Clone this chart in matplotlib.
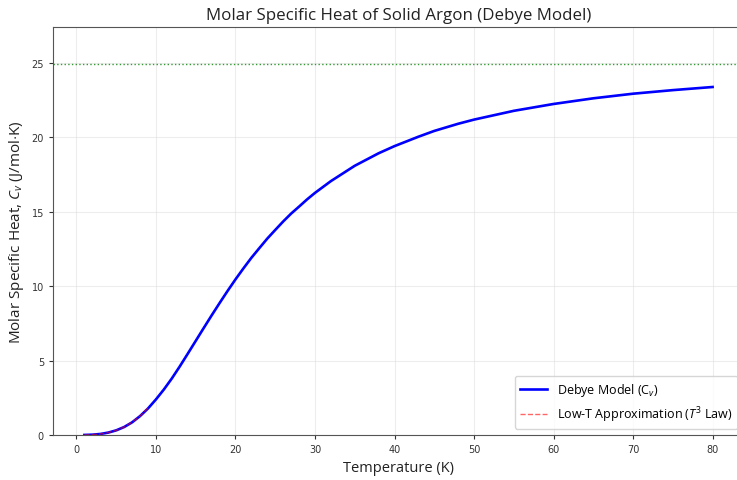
import matplotlib
matplotlib.use("Agg")
import matplotlib.pyplot as plt

plt.rcParams["mathtext.fontset"] = "custom"
plt.rcParams["mathtext.rm"] = "Open Sans"
plt.rcParams["mathtext.it"] = "Open Sans:italic"
plt.rcParams["mathtext.bf"] = "Open Sans:bold"

# Debye model curve values
temps = [1, 2, 3, 4, 5, 6, 7, 8, 9, 10, 11, 12, 13, 14, 15, 16, 17, 18, 19, 20,
         21, 22, 23, 24, 25, 26, 27, 28, 29, 30, 32, 35, 38, 40, 43, 45, 48, 50,
         55, 60, 65, 70, 75, 80]
cv_debye = [0.0025, 0.020, 0.067, 0.160, 0.311, 0.535, 0.85, 1.27, 1.78, 2.39,
            3.06, 3.80, 4.61, 5.46, 6.32, 7.18, 8.03, 8.86, 9.67, 10.45,
            11.19, 11.90, 12.55, 13.19, 13.77, 14.34, 14.87, 15.34, 15.82, 16.26,
            17.05, 18.08, 18.92, 19.40, 20.03, 20.42, 20.90, 21.18,
            21.77, 22.23, 22.61, 22.92, 23.16, 23.37]

# Low-T (T^3 law) approximation values
temps_low = [1, 2, 3, 4, 5, 6, 7, 8, 9]
cv_low = [0.0025, 0.020, 0.067, 0.160, 0.312, 0.539, 0.856, 1.278, 1.820]

dulong_petit = 24.94

fig = plt.figure(figsize=(7.37, 4.81), dpi=100)
ax = fig.add_axes([0.0719, 0.0936, 0.9376, 0.8482])

ax.plot(temps, cv_debye, color="blue", lw=1.9, label=r"Debye Model (C$_v$)")
ax.plot(temps_low, cv_low, color="red", ls="--", lw=1, alpha=0.6,
        label=r"Low-T Approximation ($T^3$ Law)")
ax.axhline(dulong_petit, color="green", ls=":", lw=1, alpha=0.8)

ax.set_xlim(-2.95, 83.95)
ax.set_ylim(0, 27.4)
ax.set_xticks(range(0, 81, 10))
ax.set_yticks([0, 5, 10, 15, 20, 25])
ax.tick_params(labelsize=7, length=3, width=0.8, colors="#333333", labelcolor="#333333")
ax.grid(True, color="#dddddd", lw=0.8, alpha=0.5)
for s in ax.spines.values():
    s.set_color("#555555")
ax.spines["right"].set_visible(False)

ax.set_title("Molar Specific Heat of Solid Argon (Debye Model)", fontsize=12.2,
             family="Open Sans", color="#222222")
ax.set_xlabel("Temperature (K)", fontsize=10.5, family="Open Sans", color="#222222")
ax.set_ylabel(r"Molar Specific Heat, $C_v$ (J/mol$\cdot$K)", fontsize=11,
              family="Open Sans", color="#222222")

leg = ax.legend(loc="lower right", prop={"family": "Open Sans", "size": 9},
                handlelength=2.2, framealpha=0.8)

fig.savefig("out.png", dpi=100)
